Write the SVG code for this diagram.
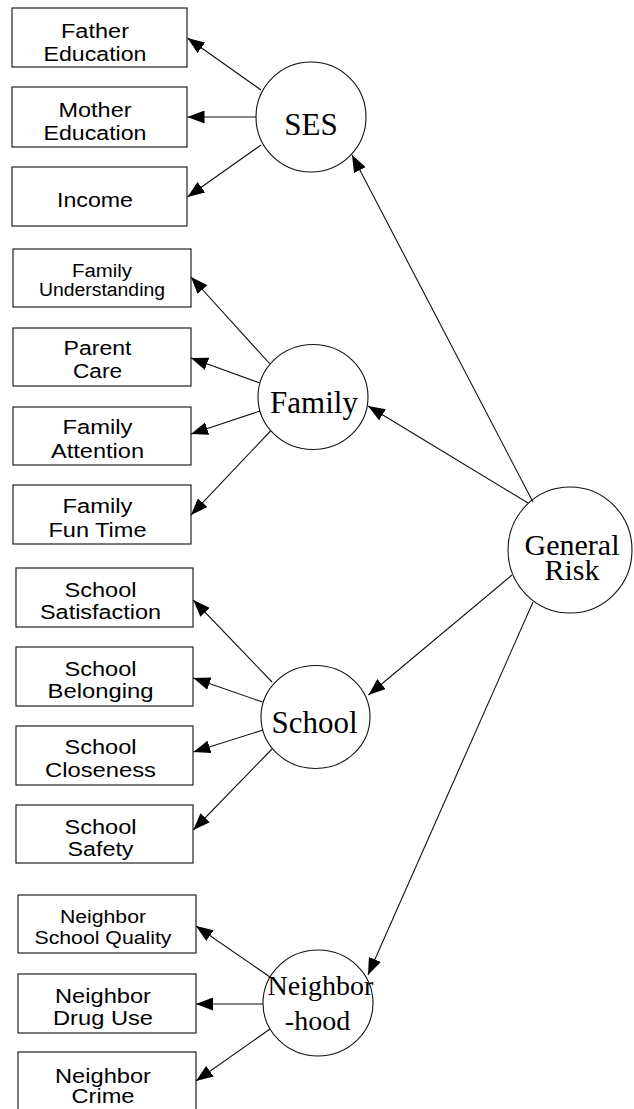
<svg xmlns="http://www.w3.org/2000/svg" width="634" height="1109" viewBox="0 0 634 1109">
  <style>
    .box { fill: #fff; stroke: #222; stroke-width: 1.2; }
    .lat { fill: #fff; stroke: #111; stroke-width: 1.1; }
    .lbl { font-family: "Liberation Sans", Arial, sans-serif; font-size: 20px; text-anchor: middle; fill: #000; }
    .sm { font-size: 18px; }
    .ltx { font-family: "Liberation Serif", "Times New Roman", serif; font-size: 31px; text-anchor: middle; fill: #000; }
    .edge { stroke: #111; stroke-width: 1.1; fill: none; marker-end: url(#arr); }
  </style>
  <defs>
    <marker id="arr" markerUnits="userSpaceOnUse" viewBox="0 0 17 13" refX="17" refY="6.5" markerWidth="17" markerHeight="13" orient="auto">
      <path d="M0,0 L17,6.5 L0,13 z" fill="#000"/>
    </marker>
  </defs>

  <rect width="634" height="1109" fill="#fff"/>

  <!-- SES indicators -->
  <g id="father-education">
    <rect class="box" x="12" y="8" width="175" height="59"/>
    <text class="lbl"><tspan x="95" y="38" textLength="68" lengthAdjust="spacingAndGlyphs">Father</tspan><tspan x="95" y="61" textLength="103" lengthAdjust="spacingAndGlyphs">Education</tspan></text>
  </g>
  <g id="mother-education">
    <rect class="box" x="12" y="87" width="175" height="60"/>
    <text class="lbl"><tspan x="95" y="117" textLength="73" lengthAdjust="spacingAndGlyphs">Mother</tspan><tspan x="95" y="140" textLength="103" lengthAdjust="spacingAndGlyphs">Education</tspan></text>
  </g>
  <g id="income">
    <rect class="box" x="12" y="167" width="175" height="59"/>
    <text class="lbl" x="95" y="207" textLength="76" lengthAdjust="spacingAndGlyphs">Income</text>
  </g>

  <!-- Family indicators -->
  <g id="family-understanding">
    <rect class="box" x="13" y="249" width="178" height="58"/>
    <text class="lbl sm"><tspan x="102" y="277" textLength="60" lengthAdjust="spacingAndGlyphs">Family</tspan><tspan x="102" y="296" textLength="126" lengthAdjust="spacingAndGlyphs">Understanding</tspan></text>
  </g>
  <g id="parent-care">
    <rect class="box" x="13" y="328" width="178" height="58"/>
    <text class="lbl"><tspan x="97.5" y="355" textLength="68" lengthAdjust="spacingAndGlyphs">Parent</tspan><tspan x="97.5" y="378" textLength="49" lengthAdjust="spacingAndGlyphs">Care</tspan></text>
  </g>
  <g id="family-attention">
    <rect class="box" x="13" y="407" width="178" height="58"/>
    <text class="lbl"><tspan x="97.5" y="434" textLength="70" lengthAdjust="spacingAndGlyphs">Family</tspan><tspan x="97.5" y="458" textLength="93" lengthAdjust="spacingAndGlyphs">Attention</tspan></text>
  </g>
  <g id="family-fun-time">
    <rect class="box" x="13" y="485" width="178" height="59"/>
    <text class="lbl"><tspan x="97.5" y="513" textLength="70" lengthAdjust="spacingAndGlyphs">Family</tspan><tspan x="97.5" y="537" textLength="98" lengthAdjust="spacingAndGlyphs">Fun Time</tspan></text>
  </g>

  <!-- School indicators -->
  <g id="school-satisfaction">
    <rect class="box" x="16" y="568" width="177" height="59"/>
    <text class="lbl"><tspan x="100.5" y="597" textLength="72" lengthAdjust="spacingAndGlyphs">School</tspan><tspan x="100.5" y="619" textLength="121" lengthAdjust="spacingAndGlyphs">Satisfaction</tspan></text>
  </g>
  <g id="school-belonging">
    <rect class="box" x="16" y="647" width="177" height="59"/>
    <text class="lbl"><tspan x="100.5" y="676" textLength="72" lengthAdjust="spacingAndGlyphs">School</tspan><tspan x="100.5" y="698" textLength="106" lengthAdjust="spacingAndGlyphs">Belonging</tspan></text>
  </g>
  <g id="school-closeness">
    <rect class="box" x="16" y="726" width="177" height="59"/>
    <text class="lbl"><tspan x="100.5" y="754" textLength="72" lengthAdjust="spacingAndGlyphs">School</tspan><tspan x="100.5" y="777" textLength="111" lengthAdjust="spacingAndGlyphs">Closeness</tspan></text>
  </g>
  <g id="school-safety">
    <rect class="box" x="16" y="805" width="177" height="58"/>
    <text class="lbl"><tspan x="100.5" y="834" textLength="72" lengthAdjust="spacingAndGlyphs">School</tspan><tspan x="100.5" y="856" textLength="66" lengthAdjust="spacingAndGlyphs">Safety</tspan></text>
  </g>

  <!-- Neighborhood indicators -->
  <g id="neighbor-school-quality">
    <rect class="box" x="18" y="895" width="178" height="58"/>
    <text class="lbl sm"><tspan x="103" y="923" textLength="86" lengthAdjust="spacingAndGlyphs">Neighbor</tspan><tspan x="103" y="944" textLength="137" lengthAdjust="spacingAndGlyphs">School Quality</tspan></text>
  </g>
  <g id="neighbor-drug-use">
    <rect class="box" x="18" y="974" width="178" height="59"/>
    <text class="lbl"><tspan x="103" y="1003" textLength="96" lengthAdjust="spacingAndGlyphs">Neighbor</tspan><tspan x="103" y="1025" textLength="100" lengthAdjust="spacingAndGlyphs">Drug Use</tspan></text>
  </g>
  <g id="neighbor-crime">
    <rect class="box" x="18" y="1052" width="178" height="60"/>
    <text class="lbl"><tspan x="103" y="1083" textLength="96" lengthAdjust="spacingAndGlyphs">Neighbor</tspan><tspan x="103" y="1103" textLength="63" lengthAdjust="spacingAndGlyphs">Crime</tspan></text>
  </g>

  <!-- Latent factors -->
  <g id="ses">
    <ellipse class="lat" cx="311" cy="117" rx="55" ry="55"/>
    <text class="ltx" x="311" y="135">SES</text>
  </g>
  <g id="family">
    <ellipse class="lat" cx="313" cy="397" rx="55" ry="52.5"/>
    <text class="ltx" x="314" y="413">Family</text>
  </g>
  <g id="school">
    <ellipse class="lat" cx="315.5" cy="717" rx="54.5" ry="51.5"/>
    <text class="ltx" x="314.5" y="733">School</text>
  </g>
  <g id="neighborhood">
    <ellipse class="lat" cx="318" cy="1003" rx="55" ry="53"/>
    <text class="ltx" x="320.5" y="995" style="font-size:28px">Neighbor</text>
    <text class="ltx" x="317.5" y="1030" style="font-size:28px">-hood</text>
  </g>
  <g id="general-risk">
    <ellipse class="lat" cx="570" cy="550" rx="62" ry="63"/>
    <text class="ltx" style="font-size:30px"><tspan x="572" y="555">General</tspan><tspan x="572" y="580">Risk</tspan></text>
  </g>

  <!-- Loadings -->
  <g id="connectors">
    <line class="edge" x1="261" y1="90" x2="187.5" y2="38"/>
    <line class="edge" x1="256" y1="117" x2="187.5" y2="117"/>
    <line class="edge" x1="261" y1="145" x2="187.5" y2="197"/>

    <line class="edge" x1="270" y1="364" x2="191" y2="277"/>
    <line class="edge" x1="260" y1="383" x2="191" y2="358"/>
    <line class="edge" x1="260" y1="411" x2="191" y2="434"/>
    <line class="edge" x1="270.5" y1="431" x2="191" y2="515"/>

    <line class="edge" x1="272" y1="682" x2="193.3" y2="600"/>
    <line class="edge" x1="262.5" y1="702" x2="193.3" y2="678"/>
    <line class="edge" x1="263" y1="730" x2="193.3" y2="752"/>
    <line class="edge" x1="272" y1="749" x2="193.3" y2="830"/>

    <line class="edge" x1="270" y1="977" x2="196" y2="926"/>
    <line class="edge" x1="263" y1="1004" x2="196" y2="1004"/>
    <line class="edge" x1="270" y1="1029" x2="196" y2="1081"/>

    <line class="edge" x1="533" y1="502" x2="352" y2="155"/>
    <line class="edge" x1="528" y1="503" x2="368" y2="406"/>
    <line class="edge" x1="512" y1="575" x2="368.5" y2="695"/>
    <line class="edge" x1="533" y1="602" x2="368" y2="975"/>
  </g>
</svg>
